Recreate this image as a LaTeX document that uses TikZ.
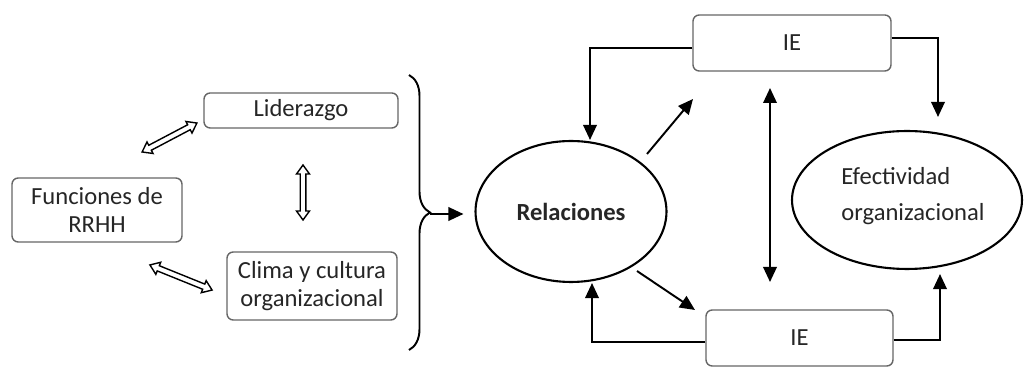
\documentclass[tikz,border=0pt]{standalone}
\usepackage{fontspec}
\setmainfont{Carlito}
\usetikzlibrary{arrows.meta,shapes.geometric,decorations.pathreplacing}
\tikzset{
  box/.style={draw=black!60, line width=0.8pt, rounded corners=3.5pt, fill=white,
              align=center, inner sep=0pt, text=black!85},
  oval/.style={ellipse, draw=black, line width=1.2pt, inner sep=0pt, align=center, text=black!85},
  flow/.style={line width=1.1pt, -{Triangle[length=0.3cm,width=0.27cm]}},
  both/.style={line width=1.1pt, {Triangle[length=0.3cm,width=0.27cm]}-{Triangle[length=0.3cm,width=0.27cm]}},
  hollow/.style={draw=black, line width=0.8pt, fill=white, line join=miter},
}
% outlined two-headed arrow: centre x, centre y, angle, length (in px units)
\newcommand\hollowarrow[4]{%
  \begin{scope}[shift={(#1,#2)}, rotate=#3]
    \pgfmathsetmacro\hl{#4/2}
    \draw[hollow] (-\hl,0) -- (-\hl+9,6.5) -- (-\hl+9,2.8) -- (\hl-9,2.8) -- (\hl-9,6.5)
      -- (\hl,0) -- (\hl-9,-6.5) -- (\hl-9,-2.8) -- (-\hl+9,-2.8) -- (-\hl+9,-6.5) -- cycle;
  \end{scope}}
\begin{document}
\begin{tikzpicture}[x=0.02cm, y=-0.02cm, font=\fontsize{14}{15.5}\selectfont]
\useasboundingbox (0,0) rectangle (1024,367);

% left block: HR functions, leadership, climate
\node[box, minimum width=3.4cm, minimum height=1.28cm] (fun) at (97,210) {Funciones de\\RRHH};
\node[box, minimum width=3.88cm, minimum height=0.70cm] (lid) at (301,110.5) {Liderazgo};
\node[box, minimum width=3.4cm, minimum height=1.36cm] (cli) at (312,286) {Clima y cultura\\organizacional};

% outlined two-way arrows between them
\hollowarrow{169.5}{137.5}{27.8}{62}
\hollowarrow{303}{192.5}{90}{55}
\hollowarrow{181}{277.5}{-22}{67}

% brace gathering the left block
\coordinate (bTop) at (409,75);
\coordinate (bBot) at (409,350);
\draw[line width=1.1pt, decorate, decoration={brace, amplitude=0.42cm}] (bTop) -- (bBot);
\coordinate (bTip) at (430,214);

% central and right elements
\node[oval, minimum width=3.82cm, minimum height=2.82cm] (rel) at (571,211.5) {\textbf{Relaciones}};
\node[box, minimum width=3.96cm, minimum height=1.12cm] (ie1) at (792,43) {IE};
\node[box, minimum width=3.74cm, minimum height=1.12cm] (ie2) at (799.5,338) {IE};
\node[oval, minimum width=4.6cm, minimum height=2.76cm] (efe) at (907,200)
  {\hspace*{0.24cm}\raisebox{0.62cm}{\begin{tabular}{@{}l@{}}Efectividad\tabularnewline[5pt] organizacional\end{tabular}}};

% connectors
\draw[flow] (bTip) -- ([xshift=-0.22cm,yshift=-0.05cm]rel.west);
\draw[flow] ([yshift=-0.1cm]ie1.west) -| ([xshift=0.38cm]rel.north);
\draw[flow] ([yshift=0.1cm]ie1.east) -| ([xshift=0.62cm,yshift=0.26cm]efe.north);
\draw[flow] ([yshift=-0.04cm]ie2.east) -| ([xshift=0.66cm,yshift=-0.08cm]efe.south);
\draw[flow] ([yshift=-0.08cm]ie2.west) -| ([xshift=0.42cm]rel.south);

\coordinate (d1s) at (647,154);
\coordinate (d1e) at (693,99);
\coordinate (d2s) at (637,271);
\coordinate (d2e) at (695,310);
\draw[flow] (d1s) -- (d1e);
\draw[flow] (d2s) -- (d2e);

\coordinate (vTop) at (770,88);
\coordinate (vBot) at (770,282);
\draw[both] (vTop) -- (vBot);
\end{tikzpicture}
\end{document}
